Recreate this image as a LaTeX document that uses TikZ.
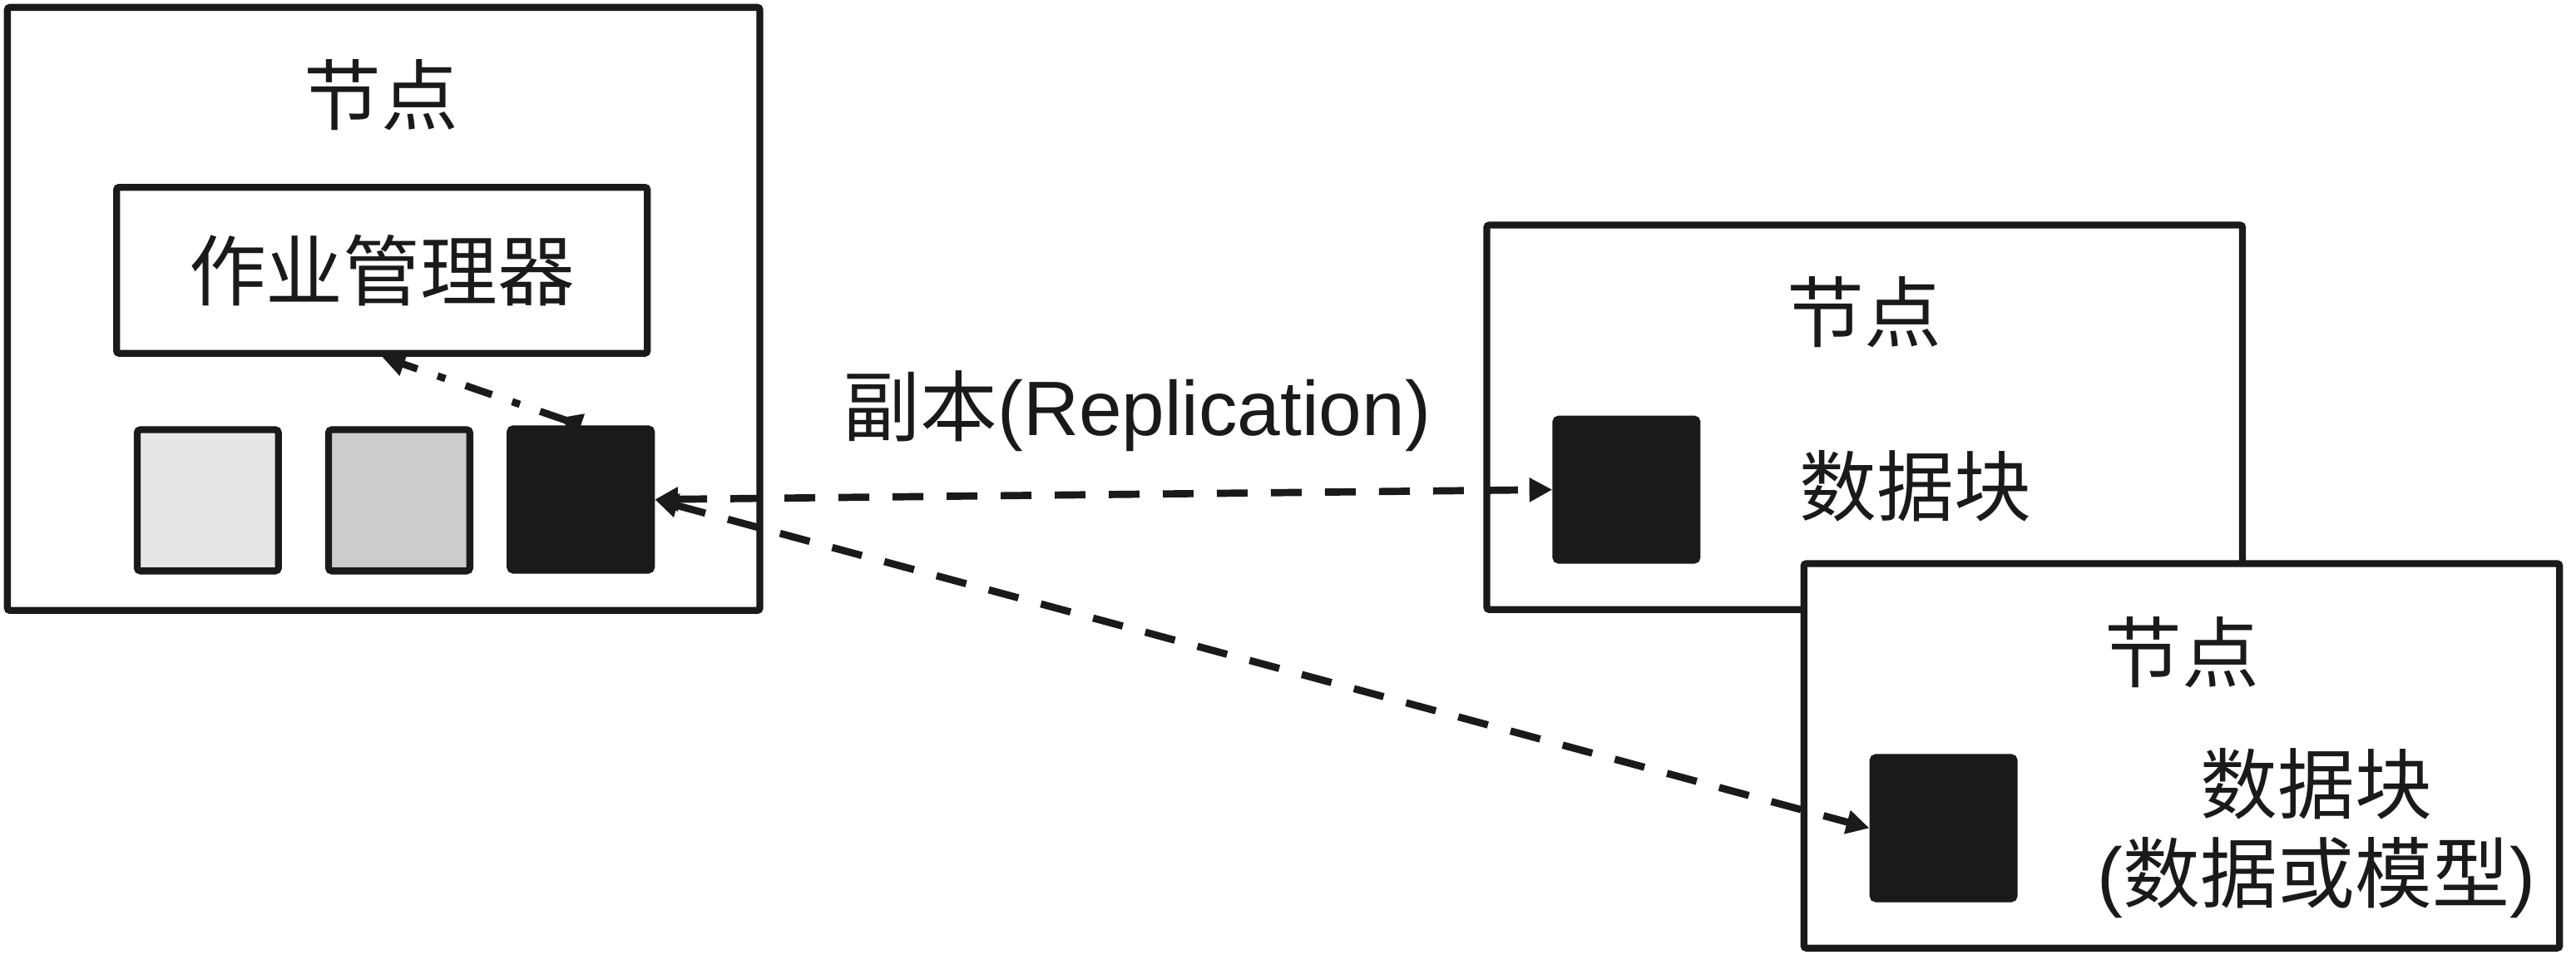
\documentclass[tikz,border=0pt]{standalone}
\usepackage{fontspec}
\setmainfont{Liberation Sans}
\newfontfamily\cjk{Noto Sans CJK SC}
\usetikzlibrary{arrows.meta}
\definecolor{ink}{HTML}{1A1A1A}
\definecolor{lightg}{HTML}{E6E6E6}
\definecolor{midg}{HTML}{CCCCCC}
\tikzset{
  box/.style={draw=ink, line width=4.2pt, fill=white, rounded corners=1.5pt, inner sep=0pt},
  blk/.style={draw=ink, line width=4.2pt, rounded corners=2pt, minimum width=86pt, minimum height=86pt, inner sep=0pt},
  lbl/.style={text=ink, inner sep=0pt, font=\fontsize{47}{54}\selectfont},
  dashline/.style={draw=ink, line width=4.4pt, dash pattern=on 18.7pt off 14.2pt},
  dotline/.style={draw=ink, line width=4.4pt, dash pattern=on 17pt off 13pt on 5pt off 13pt}
}
\begin{document}
\begin{tikzpicture}[x=1pt,y=-1pt, >={Triangle[length=14pt, width=14pt]}]
\useasboundingbox (0,0) rectangle (1568,581.2);
% left node
\node[box, minimum width=458pt, minimum height=367pt] (n1) at (233.5,188) {};
\node[lbl] (t1) at (232,58) {\cjk 节点};
\node[box, minimum width=323pt, minimum height=101pt, lbl] (jm) at (232.5,164.5) {\cjk 作业管理器};
\node[blk, fill=lightg] (s1) at (126.5,304.5) {};
\node[blk, fill=midg] (s2) at (243,304.5) {};
\node[blk, fill=ink] (d1) at (353.5,304) {};
% right top node
\node[box, minimum width=460pt, minimum height=234pt] (n2) at (1135,254) {};
\node[lbl] (t2) at (1135,190) {\cjk 节点};
\node[blk, fill=ink] (r1) at (990,298) {};
\node[lbl] (b2) at (1166,296) {\cjk 数据块};
% right bottom node
\node[box, minimum width=460pt, minimum height=234pt] (n3) at (1328,460) {};
\node[lbl] (t3) at (1328,397) {\cjk 节点};
\node[blk, fill=ink] (r2) at (1183,504) {};
\node[lbl, align=center] (b3) at (1410,507) {\cjk 数据块\\(\cjk 数据或模型\normalfont)};
% label
\node[lbl] (rep) at (692,250) {{\cjk 副本}(Replication)};
% connectors
\draw[dashline, <->] (d1.east) -- (r1.west);
\draw[dashline, <->] (d1.east) -- (r2.west);
\draw[dotline, {Triangle[reversed, length=14pt, width=14pt]}->] (d1.north) -- (jm.south);
\end{tikzpicture}
\end{document}
